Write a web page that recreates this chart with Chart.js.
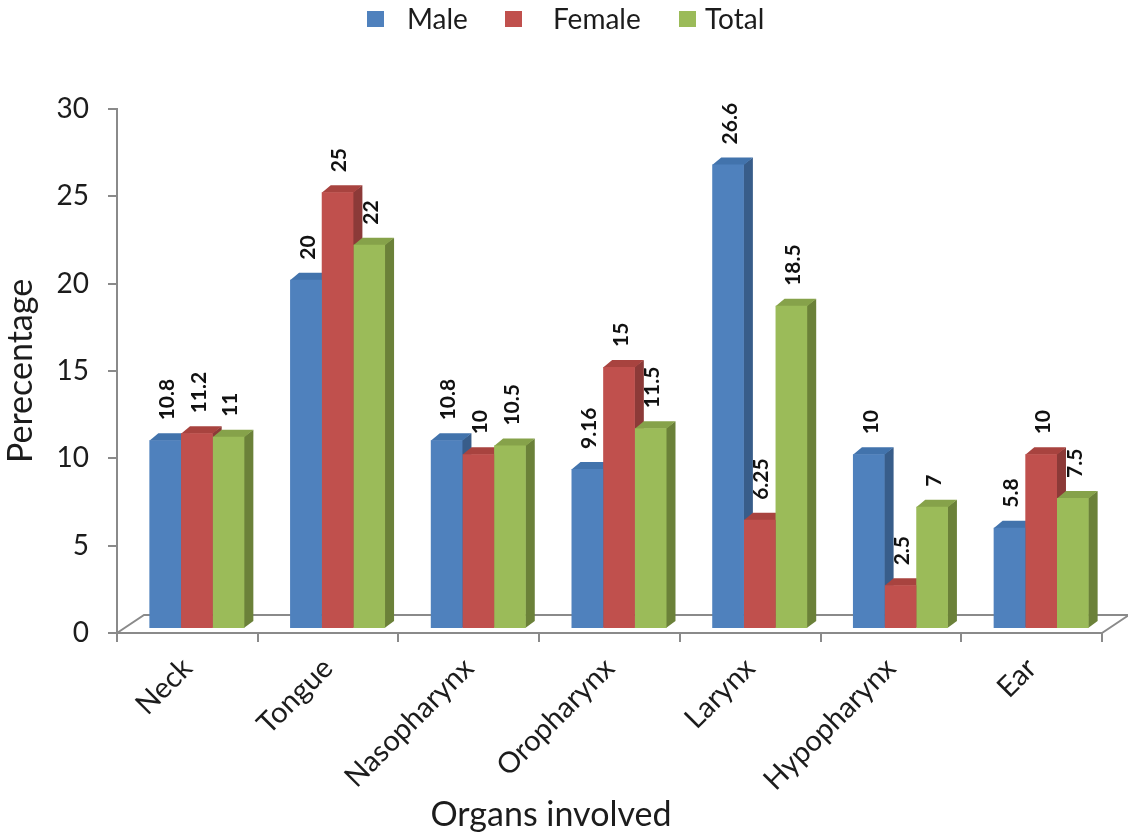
<!DOCTYPE html>
<html>
<head>
<meta charset="utf-8">
<title>Organs involved</title>
<script src="https://cdn.jsdelivr.net/npm/chart.js@4.4.1/dist/chart.umd.min.js"></script>
<style>
  html, body { margin: 0; padding: 0; background: #ffffff; }
  #wrap { width: 1128px; height: 834px; }
</style>
</head>
<body>
<div id="wrap"><canvas id="chart" width="1128" height="834"></canvas></div>
<script>
// ---- data ----
const categories = ['Neck', 'Tongue', 'Nasopharynx', 'Oropharynx', 'Larynx', 'Hypopharynx', 'Ear'];
const male   = [10.8, 20, 10.8, 9.16, 26.6, 10, 5.8];
const female = [11.2, 25, 10, 15, 6.25, 2.5, 10];
const total  = [11, 22, 10.5, 11.5, 18.5, 7, 7.5];
const seriesNames = ['Male', 'Female', 'Total'];
const yTicks = [0, 5, 10, 15, 20, 25, 30];
const xTitle = 'Organs involved';
const yTitle = 'Perecentage';

// ---- styling ----
const FONT = 'Lato';
const TEXT = '#1c1c1c';
const AXIS = '#8a8a8a';
const FRONT = ['#4F81BD', '#C0504D', '#9BBB59'];
const SIDE  = ['#385D8A', '#8C3A38', '#6B8139'];
const TOP   = ['#4273AC', '#A8433F', '#86A24A'];
const DEPTH = { x: 9, y: -7 };      // bar side/top extrusion
const PLANE = { x: 9.5, y: -4 };    // bars sit a little behind the front axis plane
const FLOOR = { x: 27, y: -18 };    // floor depth

// 3D floor outline plus side/top faces behind each bar front
const depthPlugin = {
  id: 'depth',
  beforeDatasetsDraw(chart) {
    const { ctx, chartArea: a } = chart;
    ctx.save();
    ctx.strokeStyle = AXIS;
    ctx.lineWidth = 2;
    ctx.beginPath();
    ctx.moveTo(a.left, a.bottom);
    ctx.lineTo(a.left + FLOOR.x, a.bottom + FLOOR.y);
    ctx.lineTo(a.right + FLOOR.x, a.bottom + FLOOR.y);
    ctx.lineTo(a.right, a.bottom);
    ctx.stroke();
    ctx.restore();

    ctx.save();
    ctx.translate(PLANE.x, PLANE.y);
    chart.data.datasets.forEach((ds, i) => {
      const meta = chart.getDatasetMeta(i);
      meta.data.forEach(bar => {
        const { x, y, base, width } = bar.getProps(['x', 'y', 'base', 'width'], true);
        const l = x - width / 2, r = x + width / 2;
        ctx.fillStyle = SIDE[i];
        ctx.beginPath();
        ctx.moveTo(r - 0.5, y);
        ctx.lineTo(r + DEPTH.x, y + DEPTH.y);
        ctx.lineTo(r + DEPTH.x, base + DEPTH.y);
        ctx.lineTo(r - 0.5, base);
        ctx.closePath();
        ctx.fill();
        ctx.fillStyle = TOP[i];
        ctx.beginPath();
        ctx.moveTo(l, y + 0.5);
        ctx.lineTo(l + DEPTH.x, y + DEPTH.y);
        ctx.lineTo(r + DEPTH.x, y + DEPTH.y);
        ctx.lineTo(r, y + 0.5);
        ctx.closePath();
        ctx.fill();
      });
    });
    // translation stays active while the bar fronts are drawn
  },
  afterDatasetsDraw(chart) {
    const { ctx } = chart;
    ctx.font = `bold 21px ${FONT}`;
    ctx.fillStyle = '#111111';
    ctx.textAlign = 'left';
    ctx.textBaseline = 'middle';
    chart.data.datasets.forEach((ds, i) => {
      const meta = chart.getDatasetMeta(i);
      meta.data.forEach((bar, j) => {
        const { x, y } = bar.getProps(['x', 'y'], true);
        ctx.save();
        ctx.translate(x + 2, y - 20);
        ctx.rotate(-Math.PI / 2);
        ctx.fillText(String(ds.data[j]), 0, 0);
        ctx.restore();
      });
    });
    ctx.restore();
  }
};

// legend row across the top and the category axis caption
const textPlugin = {
  id: 'captions',
  afterDraw(chart) {
    const { ctx } = chart;
    const boxX = [367, 505, 679];
    const textX = [407, 553, 705];
    ctx.save();
    ctx.font = `28px ${FONT}`;
    ctx.textAlign = 'left';
    ctx.textBaseline = 'middle';
    chart.data.datasets.forEach((ds, i) => {
      ctx.fillStyle = ds.backgroundColor;
      ctx.fillRect(boxX[i], 11, 17, 16);
      ctx.fillStyle = TEXT;
      ctx.fillText(ds.label, textX[i], 19.5);
    });
    ctx.font = `34px ${FONT}`;
    ctx.textAlign = 'center';
    ctx.fillText(xTitle, 551, 815);
    ctx.restore();
  }
};

const seriesValues = [male, female, total];

new Chart(document.getElementById('chart'), {
  type: 'bar',
  data: {
    labels: categories,
    datasets: seriesNames.map((name, i) => ({
      label: name,
      data: seriesValues[i],
      backgroundColor: FRONT[i],
      borderWidth: 0
    }))
  },
  options: {
    responsive: false,
    animation: false,
    devicePixelRatio: 1,
    layout: { padding: { top: 109, right: 26, bottom: 0, left: 0 } },
    datasets: { bar: { categoryPercentage: 0.675, barPercentage: 1 } },
    plugins: {
      legend: { display: false },
      tooltip: { enabled: false }
    },
    scales: {
      x: {
        grid: { offset: true, drawOnChartArea: false, drawTicks: true, tickLength: 9, color: AXIS, lineWidth: 2 },
        border: { display: true, color: AXIS, width: 2 },
        ticks: {
          minRotation: 45, maxRotation: 45, autoSkip: false, padding: 9,
          color: TEXT, font: { family: FONT, size: 29 }
        },
        afterFit(scale) { scale.height = 201; }
      },
      y: {
        min: 0, max: 30,
        afterBuildTicks(scale) { scale.ticks = yTicks.map(v => ({ value: v })); },
        grid: { drawOnChartArea: false, drawTicks: true, tickLength: 9, color: AXIS, lineWidth: 2 },
        border: { display: true, color: AXIS, width: 2 },
        ticks: { padding: 19, color: TEXT, font: { family: FONT, size: 28 } },
        title: {
          display: true, text: yTitle, color: TEXT,
          font: { family: FONT, size: 34 }, padding: { top: 1, bottom: 0 }
        },
        afterFit(scale) { scale.width = 117; }
      }
    }
  },
  plugins: [depthPlugin, textPlugin]
});
</script>
</body>
</html>
